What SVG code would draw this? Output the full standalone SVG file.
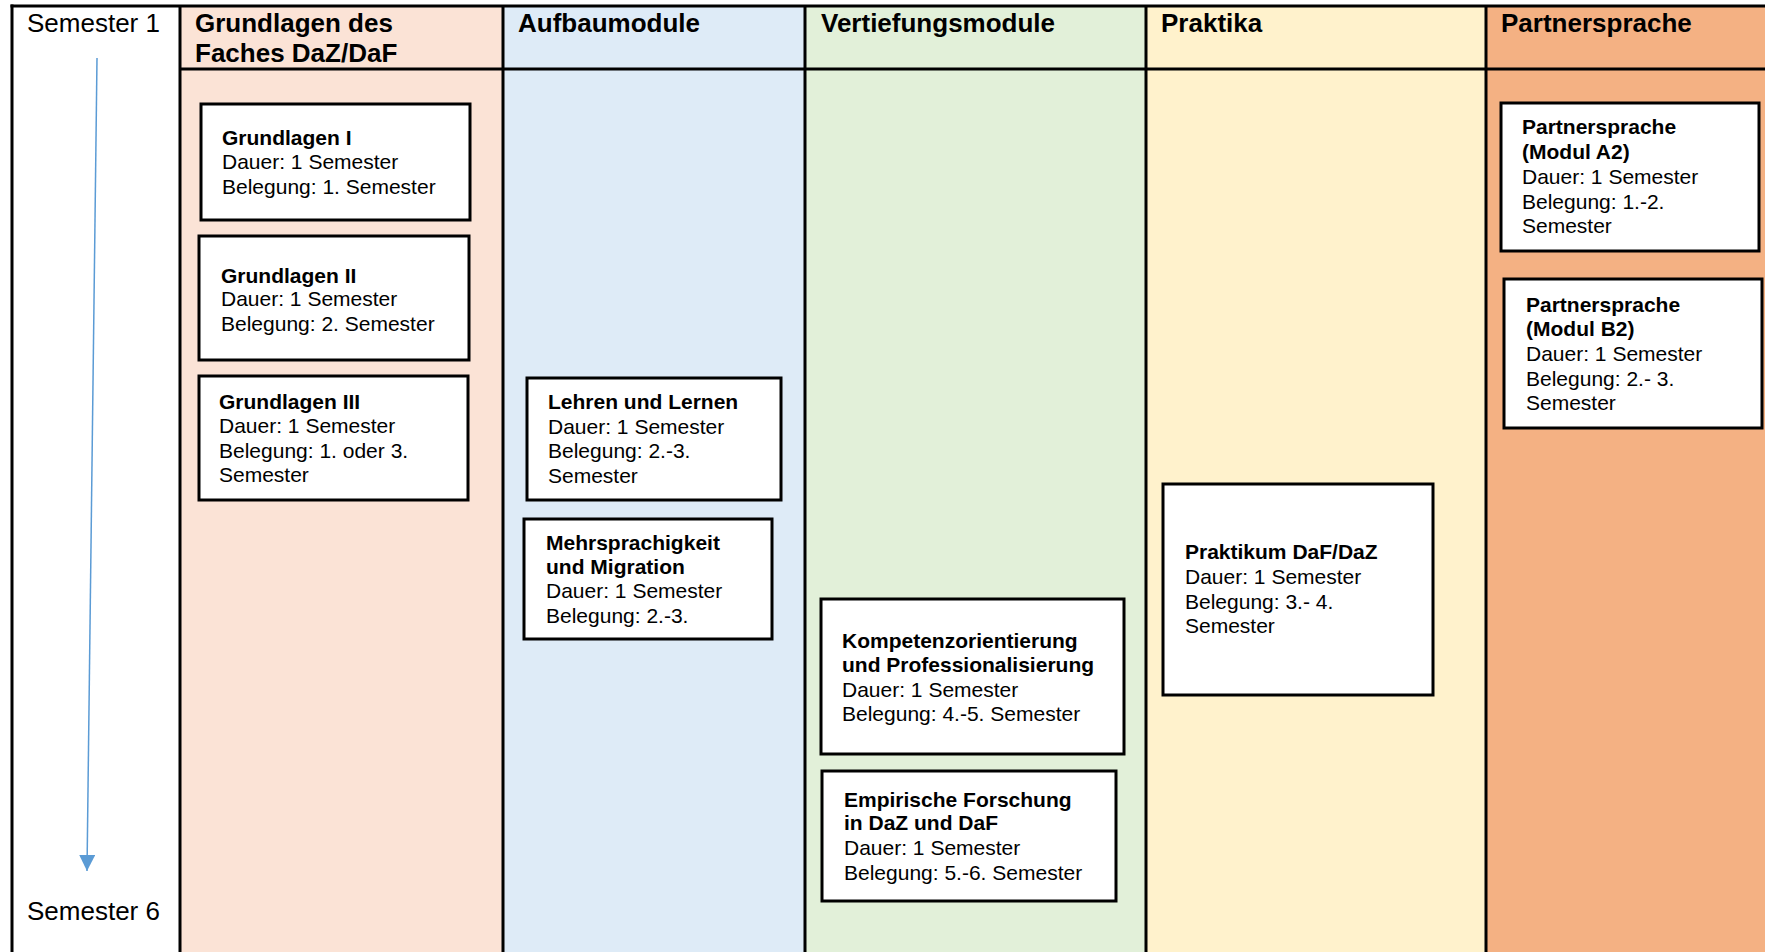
<svg xmlns="http://www.w3.org/2000/svg" width="1765" height="952" viewBox="0 0 1765 952">
<style>
.hd{font-family:"Liberation Sans",Arial,sans-serif;font-size:26px;font-weight:bold;fill:#000}
.sem{font-family:"Liberation Sans",Arial,sans-serif;font-size:26px;fill:#000}
.box{fill:#fff;stroke:#000;stroke-width:3}
.t{font-family:"Liberation Sans",Arial,sans-serif;font-size:21px;fill:#000}
.b{font-weight:bold}
.grid{stroke:#000;stroke-width:3;fill:none}
</style>
<defs>
<marker id="ah" viewBox="0 0 16 16" refX="16" refY="8" markerWidth="16" markerHeight="16" markerUnits="userSpaceOnUse" orient="auto">
<path d="M0,0 L16,8 L0,16 Z" fill="#5B9BD5"/>
</marker>
</defs>
<g id="background">
<rect x="0" y="0" width="1765" height="952" fill="#fff"/>
<rect x="180" y="6" width="323" height="946" fill="#FBE3D6"/>
<rect x="503" y="6" width="302" height="946" fill="#DEEBF7"/>
<rect x="805" y="6" width="341" height="946" fill="#E2F0D9"/>
<rect x="1146" y="6" width="340" height="946" fill="#FFF2CC"/>
<rect x="1486" y="6" width="279" height="946" fill="#F4B183"/>
</g>
<g id="grid" class="grid">
<line x1="10.5" y1="6" x2="1765" y2="6"/>
<line x1="12" y1="4.5" x2="12" y2="952"/>
<line x1="180" y1="6" x2="180" y2="952"/>
<line x1="503" y1="6" x2="503" y2="952"/>
<line x1="805" y1="6" x2="805" y2="952"/>
<line x1="1146" y1="6" x2="1146" y2="952"/>
<line x1="1486" y1="6" x2="1486" y2="952"/>
<line x1="180" y1="69" x2="1765" y2="69"/>
</g>
<g id="headers">
<text class="sem" x="27" y="32">Semester 1</text>
<text class="hd" x="195" y="32">Grundlagen des<tspan x="195" y="62">Faches DaZ/DaF</tspan></text>
<text class="hd" x="518" y="32">Aufbaumodule</text>
<text class="hd" x="821" y="32">Vertiefungsmodule</text>
<text class="hd" x="1161" y="32">Praktika</text>
<text class="hd" x="1501" y="32">Partnersprache</text>
<text class="sem" x="27" y="920">Semester 6</text>
</g>
<g id="connectors">
<line x1="97" y1="58" x2="87" y2="871" stroke="#5B9BD5" stroke-width="1.5" marker-end="url(#ah)"/>
</g>
<g id="grundlagen1">
<rect class="box" x="201" y="104" width="269" height="116"/>
<text class="t" x="222" y="145"><tspan class="b">Grundlagen I</tspan><tspan x="222" y="169">Dauer: 1 Semester</tspan><tspan x="222" y="194">Belegung: 1. Semester</tspan></text>
</g>
<g id="grundlagen2">
<rect class="box" x="199" y="236" width="270" height="124"/>
<text class="t" x="221" y="283"><tspan class="b">Grundlagen II</tspan><tspan x="221" y="306">Dauer: 1 Semester</tspan><tspan x="221" y="331">Belegung: 2. Semester</tspan></text>
</g>
<g id="grundlagen3">
<rect class="box" x="199" y="376" width="269" height="124"/>
<text class="t" x="219" y="409"><tspan class="b">Grundlagen III</tspan><tspan x="219" y="433">Dauer: 1 Semester</tspan><tspan x="219" y="458">Belegung: 1. oder 3.</tspan><tspan x="219" y="482">Semester</tspan></text>
</g>
<g id="lehren">
<rect class="box" x="527" y="378" width="254" height="122"/>
<text class="t" x="548" y="409"><tspan class="b">Lehren und Lernen</tspan><tspan x="548" y="434">Dauer: 1 Semester</tspan><tspan x="548" y="458">Belegung: 2.-3.</tspan><tspan x="548" y="483">Semester</tspan></text>
</g>
<g id="mehrsprachigkeit">
<rect class="box" x="524" y="519" width="248" height="120"/>
<text class="t" x="546" y="550"><tspan class="b">Mehrsprachigkeit</tspan><tspan class="b" x="546" y="574">und Migration</tspan><tspan x="546" y="598">Dauer: 1 Semester</tspan><tspan x="546" y="623">Belegung: 2.-3.</tspan></text>
</g>
<g id="kompetenz">
<rect class="box" x="821" y="599" width="303" height="155"/>
<text class="t" x="842" y="648"><tspan class="b">Kompetenzorientierung</tspan><tspan class="b" x="842" y="672">und Professionalisierung</tspan><tspan x="842" y="697">Dauer: 1 Semester</tspan><tspan x="842" y="721">Belegung: 4.-5. Semester</tspan></text>
</g>
<g id="empirische">
<rect class="box" x="822" y="771" width="294" height="130"/>
<text class="t" x="844" y="807"><tspan class="b">Empirische Forschung</tspan><tspan class="b" x="844" y="830">in DaZ und DaF</tspan><tspan x="844" y="855">Dauer: 1 Semester</tspan><tspan x="844" y="880">Belegung: 5.-6. Semester</tspan></text>
</g>
<g id="praktikum">
<rect class="box" x="1163" y="484" width="270" height="211"/>
<text class="t" x="1185" y="559"><tspan class="b">Praktikum DaF/DaZ</tspan><tspan x="1185" y="584">Dauer: 1 Semester</tspan><tspan x="1185" y="609">Belegung: 3.- 4.</tspan><tspan x="1185" y="633">Semester</tspan></text>
</g>
<g id="partnerA2">
<rect class="box" x="1501" y="103" width="258" height="148"/>
<text class="t" x="1522" y="134"><tspan class="b">Partnersprache</tspan><tspan class="b" x="1522" y="159">(Modul A2)</tspan><tspan x="1522" y="184">Dauer: 1 Semester</tspan><tspan x="1522" y="209">Belegung: 1.-2.</tspan><tspan x="1522" y="233">Semester</tspan></text>
</g>
<g id="partnerB2">
<rect class="box" x="1504" y="279" width="258" height="149"/>
<text class="t" x="1526" y="312"><tspan class="b">Partnersprache</tspan><tspan class="b" x="1526" y="336">(Modul B2)</tspan><tspan x="1526" y="361">Dauer: 1 Semester</tspan><tspan x="1526" y="386">Belegung: 2.- 3.</tspan><tspan x="1526" y="410">Semester</tspan></text>
</g>
</svg>
